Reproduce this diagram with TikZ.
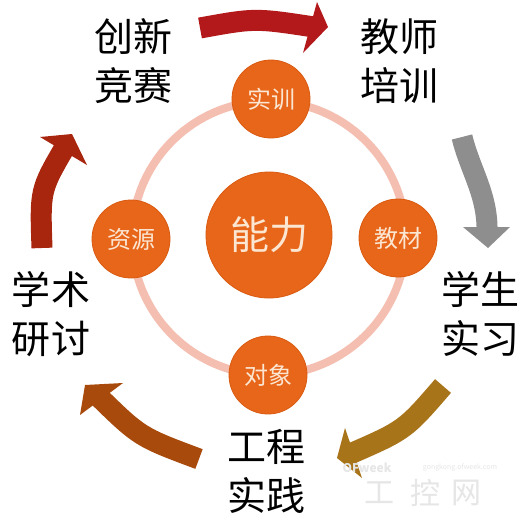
\documentclass[tikz,border=0pt]{standalone}
\usepackage{fontspec}
\setmainfont{Noto Sans CJK SC}
\definecolor{bubbleFill}{HTML}{E8661A}
\definecolor{bubbleEdge}{HTML}{D95A10}
\definecolor{bubbleText}{HTML}{FBE6D2}
\definecolor{ringCol}{HTML}{F4BFB0}
\definecolor{arrTop}{HTML}{B3181A}
\definecolor{arrGray}{HTML}{8E8E8E}
\definecolor{arrGold}{HTML}{A8741A}
\definecolor{arrBrown}{HTML}{A84A0C}
\definecolor{arrLeft}{HTML}{A8250E}
\definecolor{wmCol}{HTML}{E6E6E6}
\begin{document}
\begin{tikzpicture}[x=1pt,y=-1pt,
  bubble/.style={circle, fill=bubbleFill, draw=bubbleEdge, line width=0.8pt,
    text=bubbleText, minimum size=78pt, inner sep=0pt,
    font=\fontsize{24}{24}\selectfont},
  core/.style={bubble, minimum size=126pt, font=\fontsize{39}{39}\selectfont},
  outerlabel/.style={align=center, text=black, inner sep=0pt,
    font=\fontsize{39}{49}\selectfont},
  arrowbody/.style={line width=21pt},
  watermark/.style={text=wmCol, inner sep=0pt}
]
\useasboundingbox (0,0) rectangle (532,520);
\fill[white] (0,0) rectangle (532,520);

% ring
\node[circle, draw=ringCol, line width=8pt, minimum size=274pt, inner sep=0pt] (ring) at (269,238) {};

% bubbles
\node[core] (center) at (269,235) {能力};
\node[bubble] (shixun) at (271,99) {实训};
\node[bubble] (jiaocai) at (398,238) {教材};
\node[bubble] (ziyuan) at (131,239) {资源};
\node[bubble] (duixiang) at (268,375) {对象};

% outer labels
\node[outerlabel] (chuangxin) at (133,61) {创新\\竞赛};
\node[outerlabel] (jiaoshi) at (399,61) {教师\\培训};
\node[outerlabel] (xuesheng) at (480,314) {学生\\实习};
\node[outerlabel] (xueshu) at (51,314) {学术\\研讨};
\node[outerlabel] (gongcheng) at (266,471) {工程\\实践};

% arrow 1: top (red)
\coordinate (a1t) at (200,28);
\coordinate (a1e) at (314,27);
\coordinate (a1p) at (328,27);
\coordinate (a1u) at (317,2);
\coordinate (a1d) at (303,53);
\draw[arrowbody, arrTop] (a1t) .. controls (255,18) .. (a1e);
\fill[arrTop] (a1u) -- (a1p) -- (a1d) -- cycle;

% arrow 2: right (gray)
\coordinate (a2t) at (462,137);
\coordinate (a2e) at (487,232);
\coordinate (a2p) at (488,248);
\coordinate (a2u) at (463,227);
\coordinate (a2d) at (510,227);
\draw[arrowbody, arrGray] (a2t) .. controls (470,170) and (488,195) .. (a2e);
\fill[arrGray] (a2u) -- (a2p) -- (a2d) -- cycle;

% arrow 3: bottom right (gold)
\coordinate (a3t) at (443,386);
\coordinate (a3e) at (350,454);
\coordinate (a3p) at (337,458);
\coordinate (a3u) at (345,428);
\coordinate (a3d) at (362,478);
\draw[arrowbody, arrGold] (a3t) .. controls (405,430) .. (a3e);
\fill[arrGold] (a3u) -- (a3p) -- (a3d) -- cycle;

% arrow 4: bottom left (brown)
\coordinate (a4t) at (199,459);
\coordinate (a4e) at (98,396);
\coordinate (a4p) at (85,385);
\coordinate (a4u) at (123,383);
\coordinate (a4d) at (80,415);
\draw[arrowbody, arrBrown] (a4t) .. controls (140,437) .. (a4e);
\fill[arrBrown] (a4u) -- (a4p) -- (a4d) -- cycle;

% arrow 5: left (dark red)
\coordinate (a5t) at (42,248);
\coordinate (a5e) at (65,147);
\coordinate (a5p) at (72,134);
\coordinate (a5u) at (40,137);
\coordinate (a5d) at (87,165);
\draw[arrowbody, arrLeft] (a5t) .. controls (40,190) .. (a5e);
\fill[arrLeft] (a5u) -- (a5p) -- (a5d) -- cycle;

% watermark
\node[watermark, font=\fontsize{12}{12}\selectfont\bfseries] (wm1) at (367,468) {OFweek};
\node[watermark, font=\fontsize{7}{7}\selectfont] (wm2) at (460,468) {gongkong.ofweek.com};
\node[watermark, font=\fontsize{30}{30}\selectfont] (wm3) at (379,493) {工};
\node[watermark, font=\fontsize{30}{30}\selectfont] (wm4) at (425,493) {控};
\node[watermark, font=\fontsize{30}{30}\selectfont] (wm5) at (466,493) {网};
\end{tikzpicture}
\end{document}
